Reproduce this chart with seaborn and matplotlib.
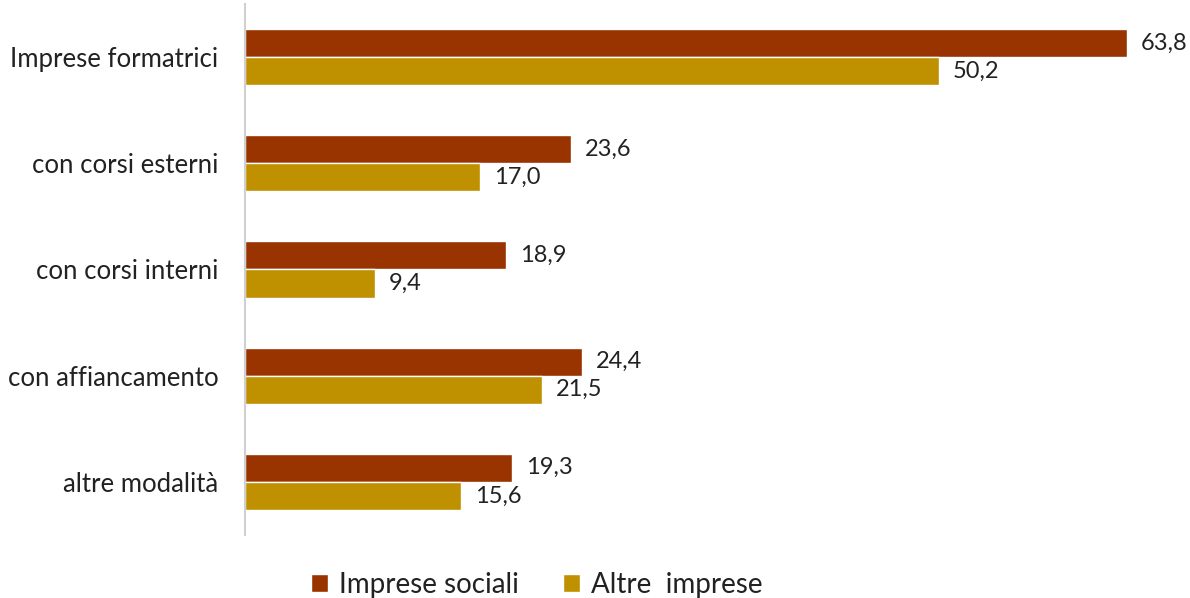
import numpy as np
import pandas as pd
import matplotlib.pyplot as plt
import seaborn as sns

# ---- data ----
categories = ["Imprese formatrici", "con corsi esterni", "con corsi interni",
              "con affiancamento", "altre modalità"]
series_names = ["Imprese sociali", "Altre  imprese"]
imprese_sociali = [63.8, 23.6, 18.9, 24.4, 19.3]
altre_imprese = [50.2, 17.0, 9.4, 21.5, 15.6]
colors = ["#993300", "#BF9000"]

df = pd.DataFrame({
    "categoria": categories * 2,
    "serie": [series_names[0]] * len(categories) + [series_names[1]] * len(categories),
    "valore": imprese_sociali + altre_imprese,
})

sns.set_style("white")
plt.rcParams["font.family"] = ["Lato", "DejaVu Sans"]

fig = plt.figure(figsize=(11.9, 5.98), dpi=100)
ax = fig.add_axes([245 / 1190, 1 - 535 / 598, (1165 - 245) / 1190, 531 / 598])

sns.barplot(data=df, y="categoria", x="valore", hue="serie", orient="h",
            order=categories, hue_order=series_names, palette=colors,
            width=0.53, saturation=1, ax=ax)

# value labels with decimal comma
for cont in ax.containers:
    ax.bar_label(cont, labels=[f"{v:.1f}".replace(".", ",") for v in cont.datavalues],
                 padding=10, fontsize=17, color="#222222")

ax.set_xlim(0, (1165 - 245) / (882 / 63.8))
ax.set_ylim(4.5, -0.5)
ax.set_xlabel("")
ax.set_ylabel("")
ax.set_xticks([])
ax.tick_params(axis="y", length=0, pad=19, labelsize=18.5, labelcolor="#222222")
for s in ["top", "right", "bottom"]:
    ax.spines[s].set_visible(False)
ax.spines["left"].set_color("#d0d0d0")
ax.spines["left"].set_linewidth(1.5)

ax.legend(loc="center", bbox_to_anchor=(0.317, -0.094),
          ncol=2, frameon=False, fontsize=20, handlelength=0.6, handleheight=0.6,
          columnspacing=1.6, handletextpad=0.4, labelcolor="#222222")

fig.savefig("out.png", dpi=100)
